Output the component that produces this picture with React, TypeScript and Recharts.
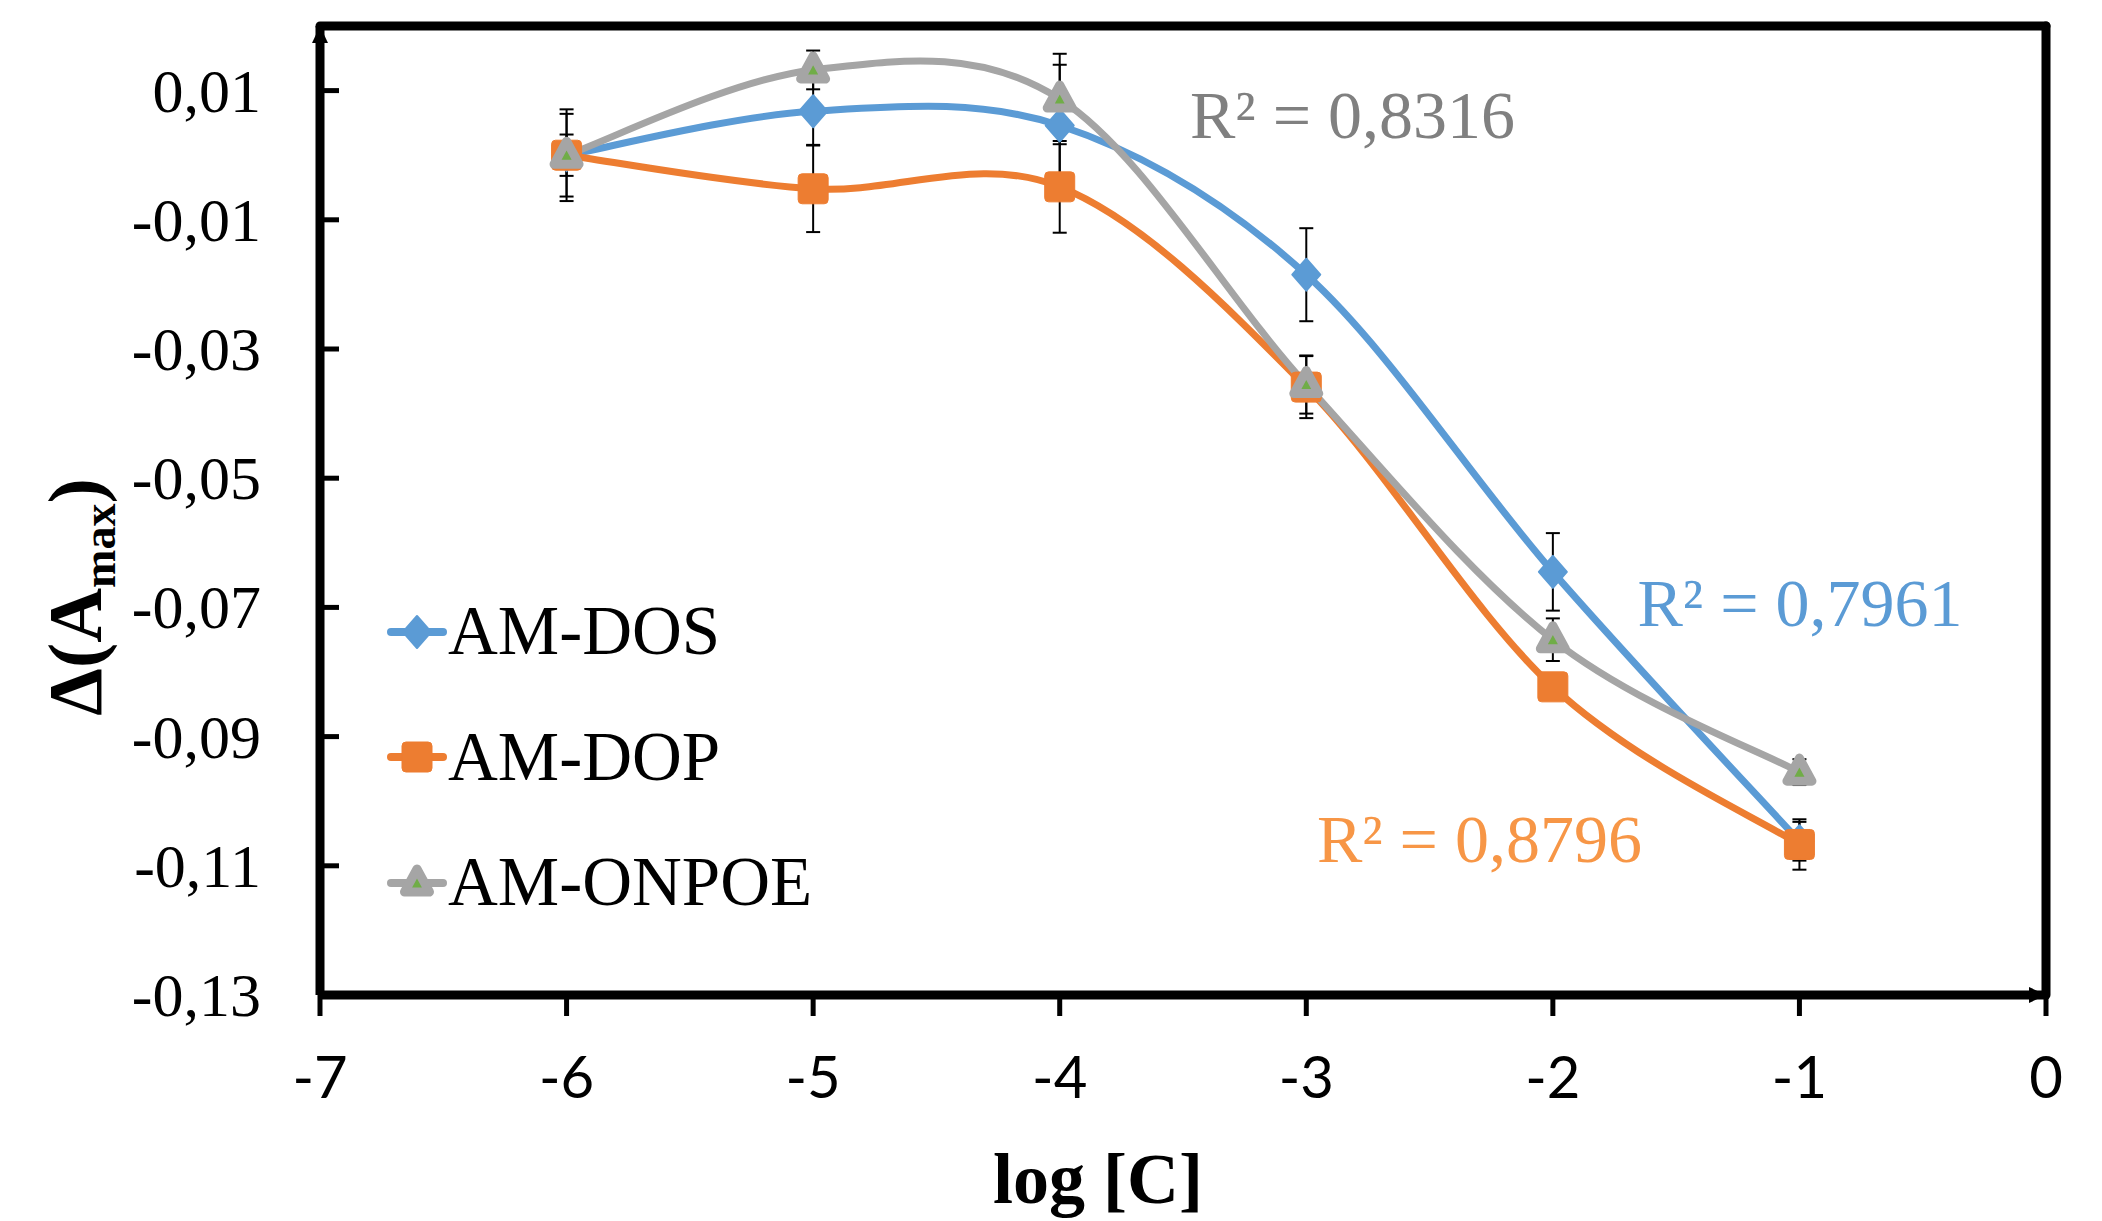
import React from 'react';
import {
  LineChart,
  Line,
  XAxis,
  YAxis,
  ErrorBar,
  ReferenceLine,
  ReferenceDot,
  Legend,
} from 'recharts';

// ---------- data ----------
const xValues = [-6, -5, -4, -3, -2, -1];
const dosValues = [0.0, 0.0068, 0.0046, -0.0185, -0.0645, -0.1062];
const dosErrors = [0.0032, 0.0052, 0.0094, 0.0072, 0.006, 0.003];
const dopValues = [0.0, -0.0052, -0.0049, -0.0359, -0.0823, -0.1067];
const dopErrors = [0.0064, 0.0067, 0.0071, 0.0048, 0.002, 0.0039];
const onpoeValues = [0.0, 0.0132, 0.0087, -0.0355, -0.075, -0.0955];
const onpoeErrors = [0.0071, 0.003, 0.007, 0.0045, 0.0033, 0.002];

const xTicks = [-7, -6, -5, -4, -3, -2, -1, 0];
const xTickLabels = ['-7', '-6', '-5', '-4', '-3', '-2', '-1', '0'];
const yTicks = [-0.13, -0.11, -0.09, -0.07, -0.05, -0.03, -0.01, 0.01];
const yTickLabels = ['-0,13', '-0,11', '-0,09', '-0,07', '-0,05', '-0,03', '-0,01', '0,01'];

const seriesNames = ['AM-DOS', 'AM-DOP', 'AM-ONPOE'];
const r2Texts = ['R² = 0,7961', 'R² = 0,8796', 'R² = 0,8316'];
const xTitle = 'log [C]';

// ---------- style ----------
const SERIF = '"Liberation Serif", "Times New Roman", Times, serif';
const SANS = 'Lato, Carlito, "Open Sans", sans-serif';
const BLUE = '#5B9BD5';
const ORANGE = '#ED7D31';
const GREY = '#A5A5A5';
const GREEN = '#70AD47';

const data = xValues.map((x, i) => ({
  x,
  dos: dosValues[i],
  dosErr: dosErrors[i],
  dop: dopValues[i],
  dopErr: dopErrors[i],
  onpoe: onpoeValues[i],
  onpoeErr: onpoeErrors[i],
}));

// Excel-like smoothed line (Catmull-Rom bezier)
const excelSmooth: any = (context: any) => {
  let pts: number[][] = [];
  return {
    areaStart() {},
    areaEnd() {},
    lineStart() {
      pts = [];
    },
    lineEnd() {
      const n = pts.length;
      if (!n) return;
      context.moveTo(pts[0][0], pts[0][1]);
      for (let i = 0; i < n - 1; i++) {
        const p0 = pts[i === 0 ? 0 : i - 1];
        const p1 = pts[i];
        const p2 = pts[i + 1];
        const p3 = pts[i + 2 < n ? i + 2 : n - 1];
        context.bezierCurveTo(
          p1[0] + (p2[0] - p0[0]) / 6,
          p1[1] + (p2[1] - p0[1]) / 6,
          p2[0] - (p3[0] - p1[0]) / 6,
          p2[1] - (p3[1] - p1[1]) / 6,
          p2[0],
          p2[1]
        );
      }
    },
    point(x: number, y: number) {
      pts.push([+x, +y]);
    },
  };
};

const diamondShape = (cx: number, cy: number) => (
  <path
    d={`M${cx},${cy - 16}L${cx + 14},${cy}L${cx},${cy + 16}L${cx - 14},${cy}Z`}
    fill={BLUE}
    stroke={BLUE}
    strokeWidth={2}
    strokeLinejoin="round"
  />
);
const squareShape = (cx: number, cy: number) => (
  <rect x={cx - 15} y={cy - 15} width={30} height={30} rx={4} ry={4} fill={ORANGE} stroke={ORANGE} strokeWidth={1} />
);
const triangleShape = (cx: number, cy: number) => (
  <path
    d={`M${cx},${cy - 14}L${cx + 12.5},${cy + 9}L${cx - 12.5},${cy + 9}Z`}
    fill={GREEN}
    stroke={GREY}
    strokeWidth={9}
    strokeLinejoin="round"
  />
);

const makeDot = (shape: (cx: number, cy: number) => any) => (props: any) => {
  const { cx, cy, index } = props;
  if (cx == null || cy == null) return <g key={`d-${index}`} />;
  return <g key={`d-${index}`}>{shape(cx, cy)}</g>;
};

const YTick = (props: any) => {
  const { x, y, payload, index } = props;
  let i = typeof index === 'number' ? index : -1;
  if (i < 0 || i >= yTicks.length) {
    i = yTicks.findIndex((t) => Math.abs(t - payload.value) < 1e-9);
  }
  return (
    <g>
      <line x1={x + 59} y1={y} x2={x + 78} y2={y} stroke="#000" strokeWidth={5} />
      <text x={x} y={y + 21} textAnchor="end" fontFamily={SERIF} fontSize={62} fill="#000">
        {yTickLabels[i] ?? ''}
      </text>
    </g>
  );
};

const XTick = (props: any) => {
  const { x, y, payload, index } = props;
  let i = typeof index === 'number' ? index : -1;
  if (i < 0 || i >= xTicks.length) {
    i = xTicks.findIndex((t) => t === payload.value);
  }
  return (
    <g>
      <line x1={x} y1={y - 103} x2={x} y2={y - 82} stroke="#000" strokeWidth={5} />
      <text x={x} y={y} textAnchor="middle" fontFamily={SANS} fontSize={58} fill="#000">
        {xTickLabels[i] ?? ''}
      </text>
    </g>
  );
};

const XTitle = (props: any) => {
  const vb = props.viewBox || { x: 0, y: 0, width: 0, height: 0 };
  return (
    <text
      x={vb.x + 778}
      y={vb.y + 208}
      textAnchor="middle"
      fontFamily={SERIF}
      fontWeight="bold"
      fontSize={72}
      fill="#000"
    >
      {xTitle}
    </text>
  );
};

const YTitle = (props: any) => {
  const vb = props.viewBox || { x: 0, y: 0, width: 0, height: 0 };
  const cx = vb.x + 101;
  const cy = vb.y + 571;
  return (
    <text
      x={cx}
      y={cy}
      transform={`rotate(-90 ${cx} ${cy})`}
      textAnchor="middle"
      fontFamily={SERIF}
      fontWeight="bold"
      fontSize={76}
      fill="#000"
    >
      <tspan>Δ(A</tspan>
      <tspan fontSize={46} dy={14}>max</tspan>
      <tspan dy={-14}>)</tspan>
    </text>
  );
};

const legendItems = [
  { name: seriesNames[0], color: BLUE, shape: diamondShape },
  { name: seriesNames[1], color: ORANGE, shape: squareShape },
  { name: seriesNames[2], color: GREY, shape: triangleShape },
];

const renderLegend = () => (
  <div style={{ fontFamily: SERIF, fontSize: 69, color: '#000' }}>
    {legendItems.map((item, i) => (
      <div
        key={i}
        style={{ display: 'flex', alignItems: 'center', height: 125.5, whiteSpace: 'nowrap' }}
      >
        <svg width={60} height={40} style={{ marginRight: 1, flex: 'none', overflow: 'visible' }}>
          <line x1={4} y1={20} x2={56} y2={20} stroke={item.color} strokeWidth={8} strokeLinecap="round" />
          {item.shape(30, 20)}
        </svg>
        <span style={{ lineHeight: '125.5px' }}>{item.name}</span>
      </div>
    ))}
  </div>
);

const textShape = (text: string, color: string) => (props: any) => {
  const { cx, cy } = props;
  return (
    <text x={cx} y={cy} fontFamily={SERIF} fontSize={68} fill={color} textAnchor="start">
      {text}
    </text>
  );
};

const upArrow = (props: any) => {
  const { cx, cy } = props;
  return <path d={`M${cx - 8},${cy + 17}L${cx},${cy}L${cx + 8},${cy + 17}Z`} fill="#000" />;
};
const rightArrow = (props: any) => {
  const { cx, cy } = props;
  return <path d={`M${cx - 17},${cy - 8}L${cx},${cy}L${cx - 17},${cy + 8}Z`} fill="#000" />;
};

export default function App() {
  return (
    <div style={{ position: 'absolute', left: 0, top: 0, width: 2102, height: 1221, background: '#fff' }}>
      <LineChart
        width={2102}
        height={1221}
        data={data}
        margin={{ top: 26, right: 56, left: 0, bottom: 0 }}
      >
        <XAxis
          type="number"
          dataKey="x"
          domain={[-7, 0]}
          ticks={xTicks}
          interval={0}
          height={226}
          tickSize={0}
          tickMargin={103}
          tickLine={false}
          axisLine={{ stroke: '#000', strokeWidth: 9 }}
          tick={(p: any) => <XTick {...p} />}
          label={(p: any) => <XTitle {...p} />}
          allowDataOverflow
        />
        <YAxis
          type="number"
          domain={[-0.13, 0.02]}
          ticks={yTicks}
          interval={0}
          width={320}
          tickSize={0}
          tickMargin={59}
          tickLine={false}
          axisLine={{ stroke: '#000', strokeWidth: 9 }}
          tick={(p: any) => <YTick {...p} />}
          label={(p: any) => <YTitle {...p} />}
          allowDataOverflow
        />
        <ReferenceLine y={0.02} stroke="#000" strokeWidth={9} strokeLinecap="round" />
        <ReferenceLine x={0} stroke="#000" strokeWidth={9} strokeLinecap="round" />
        <ReferenceDot x={-7} y={0.02} r={0} shape={upArrow} />
        <ReferenceDot x={0} y={-0.13} r={0} shape={rightArrow} />

        <Line
          dataKey="dos"
          name={seriesNames[0]}
          type={excelSmooth}
          stroke={BLUE}
          strokeWidth={7}
          strokeLinecap="round"
          strokeLinejoin="round"
          dot={makeDot(diamondShape)}
          activeDot={false}
          isAnimationActive={false}
        >
          <ErrorBar dataKey="dosErr" direction="y" width={7} stroke="#000" strokeWidth={2} />
        </Line>
        <Line
          dataKey="dop"
          name={seriesNames[1]}
          type={excelSmooth}
          stroke={ORANGE}
          strokeWidth={7}
          strokeLinecap="round"
          strokeLinejoin="round"
          dot={makeDot(squareShape)}
          activeDot={false}
          isAnimationActive={false}
        >
          <ErrorBar dataKey="dopErr" direction="y" width={7} stroke="#000" strokeWidth={2} />
        </Line>
        <Line
          dataKey="onpoe"
          name={seriesNames[2]}
          type={excelSmooth}
          stroke={GREY}
          strokeWidth={7}
          strokeLinecap="round"
          strokeLinejoin="round"
          dot={makeDot(triangleShape)}
          activeDot={false}
          isAnimationActive={false}
        >
          <ErrorBar dataKey="onpoeErr" direction="y" width={7} stroke="#000" strokeWidth={2} />
        </Line>

        <ReferenceDot x={-3.472} y={0.00273} r={0} shape={textShape(r2Texts[2], '#808080')} />
        <ReferenceDot x={-1.657} y={-0.07287} r={0} shape={textShape(r2Texts[0], BLUE)} />
        <ReferenceDot x={-2.957} y={-0.10944} r={0} shape={textShape(r2Texts[1], '#F79646')} />

        <Legend
          layout="vertical"
          align="center"
          verticalAlign="middle"
          wrapperStyle={{ left: 387, top: 569, width: 700 }}
          content={renderLegend}
        />
      </LineChart>
    </div>
  );
}
